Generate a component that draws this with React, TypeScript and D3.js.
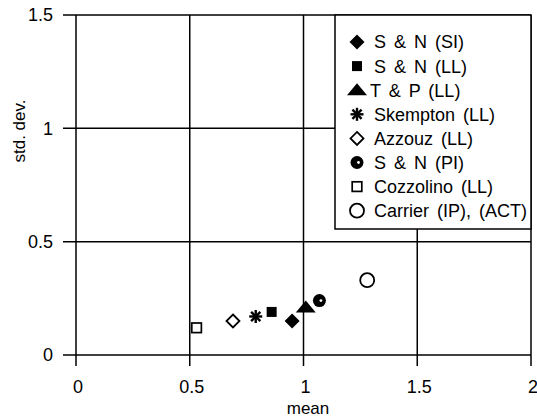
import React, { useEffect, useRef } from "react";
import * as d3 from "d3";

// series shown in the legend, top to bottom
const seriesNames = [
  "S & N (SI)",
  "S & N (LL)",
  "T & P (LL)",
  "Skempton (LL)",
  "Azzouz (LL)",
  "S & N (PI)",
  "Cozzolino (LL)",
  "Carrier (IP), (ACT)",
];
const meanValues = [0.95, 0.86, 1.01, 0.79, 0.69, 1.07, 0.53, 1.28];
const stdDevValues = [0.15, 0.19, 0.21, 0.17, 0.15, 0.24, 0.12, 0.33];
const markerKinds = [
  "diamondFilled",
  "squareFilled",
  "triangle",
  "asterisk",
  "diamondOpen",
  "circleDot",
  "squareOpen",
  "circleOpen",
];

const xTicks = [0, 0.5, 1, 1.5, 2];
const yTicks = [0, 0.5, 1, 1.5];
const xTickLabels = ["0", "0.5", "1", "1.5", "2"];
const yTickLabels = ["0", "0.5", "1", "1.5"];

const W = 537,
  H = 418;
const FONT = "'Liberation Sans', Arial, sans-serif";

function drawMarker(g: any, kind: string, cx: number, cy: number) {
  const k = g.append("g").attr("transform", `translate(${cx},${cy})`);
  switch (kind) {
    case "diamondFilled":
      k.append("path").attr("d", "M0,-7.5L7.5,0L0,7.5L-7.5,0Z").attr("fill", "#000");
      break;
    case "squareFilled":
      k.append("rect").attr("x", -5).attr("y", -5).attr("width", 10).attr("height", 10).attr("fill", "#000");
      break;
    case "triangle":
      k.append("path").attr("d", "M0,-7L10,5L-10,5Z").attr("fill", "#000");
      break;
    case "asterisk":
      [0, 45, 90, 135].forEach((a) => {
        k.append("line")
          .attr("x1", 0).attr("y1", -6.5).attr("x2", 0).attr("y2", 6.5)
          .attr("transform", `rotate(${a})`)
          .attr("stroke", "#000").attr("stroke-width", 2.4);
      });
      break;
    case "diamondOpen":
      k.append("path").attr("d", "M0,-6.5L6.5,0L0,6.5L-6.5,0Z")
        .attr("fill", "#fff").attr("stroke", "#000").attr("stroke-width", 1.8);
      break;
    case "circleDot":
      k.append("circle").attr("r", 6.5).attr("fill", "#000");
      k.append("circle").attr("cx", 1.5).attr("cy", 0).attr("r", 1.4).attr("fill", "#fff");
      break;
    case "squareOpen":
      k.append("rect").attr("x", -4.8).attr("y", -4.8).attr("width", 9.6).attr("height", 9.6)
        .attr("fill", "#fff").attr("stroke", "#000").attr("stroke-width", 1.7);
      break;
    case "circleOpen":
      k.append("circle").attr("r", 7)
        .attr("fill", "#fff").attr("stroke", "#000").attr("stroke-width", 1.8);
      break;
  }
}

const App = () => {
  const ref = useRef<SVGSVGElement>(null);

  useEffect(() => {
    const svg = d3.select(ref.current);
    svg.selectAll("*").remove();

    const x = d3.scaleLinear().domain([0, 2]).range([76, 531]);
    const y = d3.scaleLinear().domain([0, 1.5]).range([355, 15]);

    const grid = svg.append("g").attr("stroke", "#000").attr("stroke-width", 1.5);

    // horizontal grid + ticks on the left
    yTicks.forEach((v) => {
      grid.append("line")
        .attr("x1", x(0) - 13).attr("x2", x(2))
        .attr("y1", y(v)).attr("y2", y(v));
    });
    // vertical grid + ticks below
    xTicks.forEach((v) => {
      grid.append("line")
        .attr("x1", x(v)).attr("x2", x(v))
        .attr("y1", y(1.5)).attr("y2", y(0) + 11);
    });

    // tick labels
    svg.append("g")
      .selectAll("text")
      .data(yTicks)
      .enter()
      .append("text")
      .attr("x", x(0) - 23)
      .attr("y", (d) => y(d))
      .attr("dy", "0.35em")
      .attr("text-anchor", "end")
      .style("font-family", FONT)
      .style("font-size", "18px")
      .text((d, i) => yTickLabels[i]);

    svg.append("g")
      .selectAll("text")
      .data(xTicks)
      .enter()
      .append("text")
      .attr("x", (d) => x(d) + 2)
      .attr("y", 393)
      .attr("text-anchor", "middle")
      .style("font-family", FONT)
      .style("font-size", "18px")
      .text((d, i) => xTickLabels[i]);

    // axis titles
    svg.append("text")
      .attr("x", 308)
      .attr("y", 414)
      .attr("text-anchor", "middle")
      .style("font-family", FONT)
      .style("font-size", "17px")
      .text("mean");

    svg.append("text")
      .attr("transform", "translate(25,131) rotate(-90)")
      .attr("text-anchor", "middle")
      .style("font-family", FONT)
      .style("font-size", "17px")
      .text("std. dev.");

    // data points
    const pts = svg.append("g");
    seriesNames.forEach((name, i) => {
      drawMarker(pts, markerKinds[i], x(meanValues[i]), y(stdDevValues[i]));
    });

    // legend box in the top-right corner
    const lg = svg.append("g");
    lg.append("rect")
      .attr("x", 335)
      .attr("y", y(1.5))
      .attr("width", x(2) - 335)
      .attr("height", 214)
      .attr("fill", "#fff")
      .attr("stroke", "#000")
      .attr("stroke-width", 1.5);

    seriesNames.forEach((name, i) => {
      const cy = 42 + i * 24.1;
      drawMarker(lg, markerKinds[i], 357, cy);
      lg.append("text")
        .attr("x", markerKinds[i] === "triangle" ? 370 : 374)
        .attr("y", cy)
        .attr("dy", "0.36em")
        .style("font-family", FONT)
        .style("font-size", "18px")
        .style("word-spacing", "3px")
        .text(name);
    });
  }, []);

  return (
    <svg
      ref={ref}
      width={W}
      height={H}
      style={{ position: "absolute", left: 0, top: 0, background: "#fff" }}
    />
  );
};

export default App;
